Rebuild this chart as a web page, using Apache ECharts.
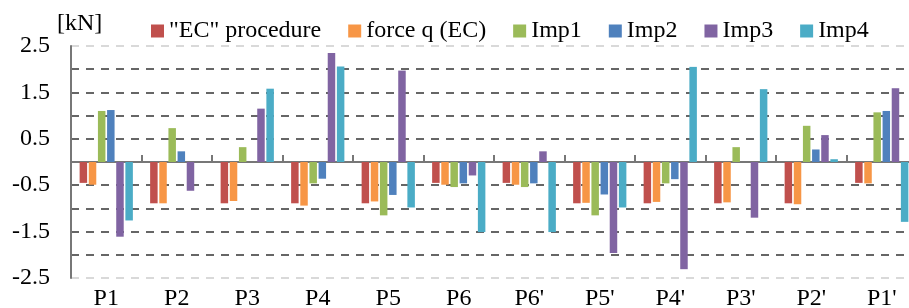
<!DOCTYPE html>
<html>
<head>
<meta charset="utf-8">
<script src="https://cdn.jsdelivr.net/npm/echarts@6/dist/echarts.min.js"></script>
<style>
  html, body { margin: 0; padding: 0; background: #fff; }
  #container { width: 909px; height: 308px; }
</style>
</head>
<body>
<div id="container"></div>
<script>
var dom = document.getElementById("container");
var myChart = echarts.init(dom);

// categories along the x axis
var categories = ['P1', 'P2', 'P3', 'P4', 'P5', 'P6', "P6'", "P5'", "P4'", "P3'", "P2'", "P1'"];

// series values [kN]
var ecProc = [-0.45, -0.89, -0.89, -0.89, -0.89, -0.45, -0.45, -0.89, -0.89, -0.89, -0.89, -0.45];
var forceQ = [-0.49, -0.89, -0.84, -0.94, -0.85, -0.49, -0.49, -0.88, -0.86, -0.87, -0.91, -0.46];
var imp1   = [1.10, 0.73, 0.32, -0.46, -1.15, -0.54, -0.54, -1.15, -0.46, 0.32, 0.78, 1.07];
var imp2   = [1.12, 0.23, 0, -0.36, -0.71, -0.46, -0.46, -0.70, -0.37, 0, 0.27, 1.10];
var imp3   = [-1.61, -0.62, 1.15, 2.35, 1.97, -0.29, 0.23, -1.96, -2.31, -1.20, 0.58, 1.59];
var imp4   = [-1.26, 0, 1.58, 2.06, -0.98, -1.51, -1.51, -0.98, 2.05, 1.57, 0.06, -1.29];

var seriesNames = ['"EC" procedure', 'force q (EC)', 'Imp1', 'Imp2', 'Imp3', 'Imp4'];
var seriesData = [ecProc, forceQ, imp1, imp2, imp3, imp4];
var colors = ['#C0504D', '#F79646', '#9BBB59', '#4F81BD', '#8064A2', '#4BACC6'];

var font = 'Liberation Serif';

// grid line colours from -2.5 to 2.5, zero line is the x axis itself
var gridColors = ['#d9d9d9', '#666666', '#666666', '#666666', '#666666', 'rgba(0,0,0,0)',
                  '#666666', '#666666', '#666666', '#666666', '#d9d9d9'];

var series = seriesData.map(function (d, i) {
    return {
        name: seriesNames[i],
        type: 'bar',
        data: d,
        barWidth: 7.5,
        barGap: '22%',
        itemStyle: { color: colors[i] }
    };
});

option = {
    animation: false,
    textStyle: { fontFamily: font },
    legend: {
        left: 146,
        top: 14,
        itemWidth: 13,
        itemHeight: 13,
        itemGap: 27,
        icon: 'rect',
        textStyle: { fontFamily: font, fontSize: 24, color: '#000' },
        data: seriesNames
    },
    grid: {
        left: 71,
        right: -8,
        top: 46,
        bottom: 30,
        containLabel: false,
        outerBoundsMode: 'none'
    },
    xAxis: [{
        type: 'category',
        data: categories,
        axisLine: { onZero: true, lineStyle: { color: '#777777', width: 2 } },
        axisTick: { show: true, inside: true, length: 7, lineStyle: { color: '#777777', width: 2 } },
        axisLabel: { show: false },
        splitLine: { show: false }
    }, {
        type: 'category',
        data: categories,
        position: 'bottom',
        axisLine: { show: false, onZero: false },
        axisTick: { show: false },
        axisLabel: { show: true, margin: 9, fontFamily: font, fontSize: 24, color: '#000' }
    }],
    yAxis: {
        type: 'value',
        min: -2.5,
        max: 2.5,
        interval: 0.5,
        name: '[kN]',
        nameLocation: 'end',
        nameGap: 10,
        nameTextStyle: { fontFamily: font, fontSize: 24, color: '#000', align: 'left', padding: [0, 0, 0, -14] },
        axisLine: { show: true, lineStyle: { color: '#777777', width: 2 } },
        axisTick: { show: false },
        axisLabel: {
            margin: 21,
            fontFamily: font,
            fontSize: 24,
            color: '#000',
            formatter: function (v) {
                return Math.abs(Math.round(v * 2)) % 2 === 1 ? String(v) : '';
            }
        },
        splitLine: {
            show: true,
            lineStyle: { color: gridColors, width: 2, type: [8, 7] }
        }
    },
    series: series
};

myChart.setOption(option, true);
</script>
</body>
</html>
